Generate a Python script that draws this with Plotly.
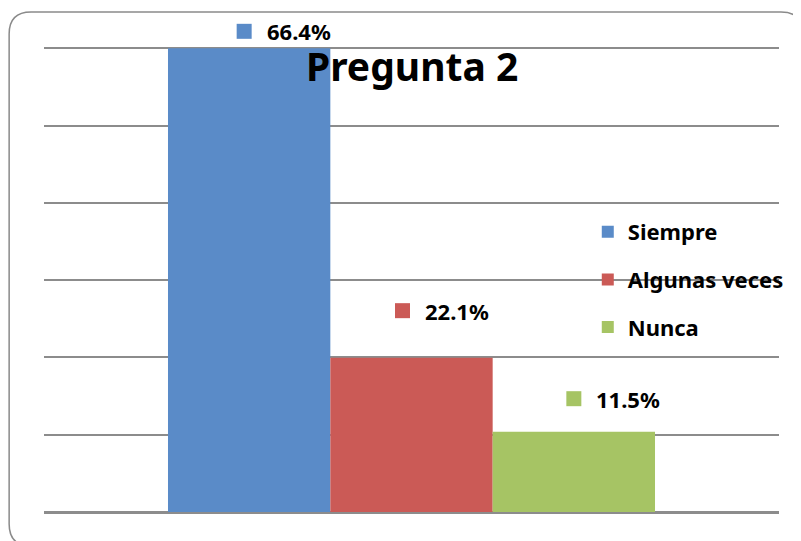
import plotly.graph_objects as go

# ---- data ----
categories = ["Siempre", "Algunas veces", "Nunca"]
values = [66.4, 22.1, 11.5]
colors = ["#5A8BC8", "#CB5A56", "#A6C464"]
title_text = "Pregunta 2"

# ---- layout constants (pixels) ----
OFF = 8                      # default body margin of the page
W, H = 801 - OFF, 541 - OFF
ML, MR, MT, MB = 36, 19, 38, 29
PW = W - ML - MR
PH = H - MT - MB
bargap = 1 - 489 / PW
n_grid = 6
FONT = "Noto Sans"

def px_to_paper_x(page_px):
    return (page_px - OFF - ML) / PW

def px_to_paper_y(page_py):
    return (H - MB - (page_py - OFF)) / PH

fig = go.Figure()
for name, v, c in zip(categories, values, colors):
    fig.add_trace(go.Bar(x=[0], y=[v], name=name, legendgroup=name,
                         marker=dict(color=c, line=dict(width=0))))

ymax = max(values)
ytop = ymax * 1.005
tickvals = [ymax * i / n_grid for i in range(n_grid + 1)]

# bar centres in data coords for grouped bars around x=0
w = (1 - bargap) / len(values)
centres = [(i - (len(values) - 1) / 2) * w for i in range(len(values))]

# label offsets: (square-left relative to bar centre px, label centre above bar top px)
label_offsets = [(-12.5, 17), (-16.5, 47), (-7.5, 33)]

annotations = []
shapes = []
for v, c, xc, (dx, dy) in zip(values, colors, centres, label_offsets):
    shapes.append(dict(type="rect", xref="x", yref="paper",
                       xsizemode="pixel", ysizemode="pixel",
                       xanchor=xc, yanchor=v / ytop,
                       x0=dx, x1=dx + 15, y0=dy - 7.5, y1=dy + 7.5,
                       fillcolor=c, line=dict(width=0)))
    annotations.append(dict(x=xc, y=v, xref="x", yref="y", text=f"{v}%",
                            showarrow=False, xanchor="left", yanchor="middle",
                            xshift=dx + 28, yshift=dy,
                            font=dict(family=FONT, size=22, color="black", weight="bold")))

annotations.append(dict(x=0.5, y=px_to_paper_y(66), xref="paper", yref="paper",
                        text=title_text, showarrow=False, xanchor="center", yanchor="middle",
                        font=dict(family=FONT, size=39, color="black", weight="bold")))

# rounded border
L, T, R, B, r = px_to_paper_x(9), px_to_paper_y(12), px_to_paper_x(806), px_to_paper_y(546), 22
rx, ry = r / PW, r / PH
path = (f"M{L+rx},{T} L{R-rx},{T} Q{R},{T} {R},{T-ry} L{R},{B+ry} Q{R},{B} {R-rx},{B} "
        f"L{L+rx},{B} Q{L},{B} {L},{B+ry} L{L},{T-ry} Q{L},{T} {L+rx},{T} Z")
shapes.append(dict(type="path", xref="paper", yref="paper", path=path,
                   line=dict(color="#8A8A8A", width=1.5)))

fig.update_layout(
    width=W, height=H,
    margin=dict(l=ML, r=MR, t=MT, b=MB, pad=0),
    paper_bgcolor="white", plot_bgcolor="white",
    barmode="group", bargap=bargap, bargroupgap=0,
    showlegend=True,
    legend=dict(x=px_to_paper_x(590), xanchor="left", y=px_to_paper_y(211), yanchor="top",
                bgcolor="rgba(0,0,0,0)", traceorder="grouped", tracegroupgap=16,
                font=dict(family=FONT, size=22, color="black", weight="bold")),
    xaxis=dict(range=[-0.5, 0.5], showticklabels=False, showgrid=False, zeroline=False,
               showline=False, ticks=""),
    yaxis=dict(range=[0, ytop], tickvals=tickvals, showticklabels=False,
               showgrid=True, gridcolor="#8C8C8C", gridwidth=2,
               zeroline=True, zerolinecolor="#8C8C8C", zerolinewidth=2.5,
               showline=False, ticks=""),
    annotations=annotations, shapes=shapes,
)

fig.write_html("out.html")
